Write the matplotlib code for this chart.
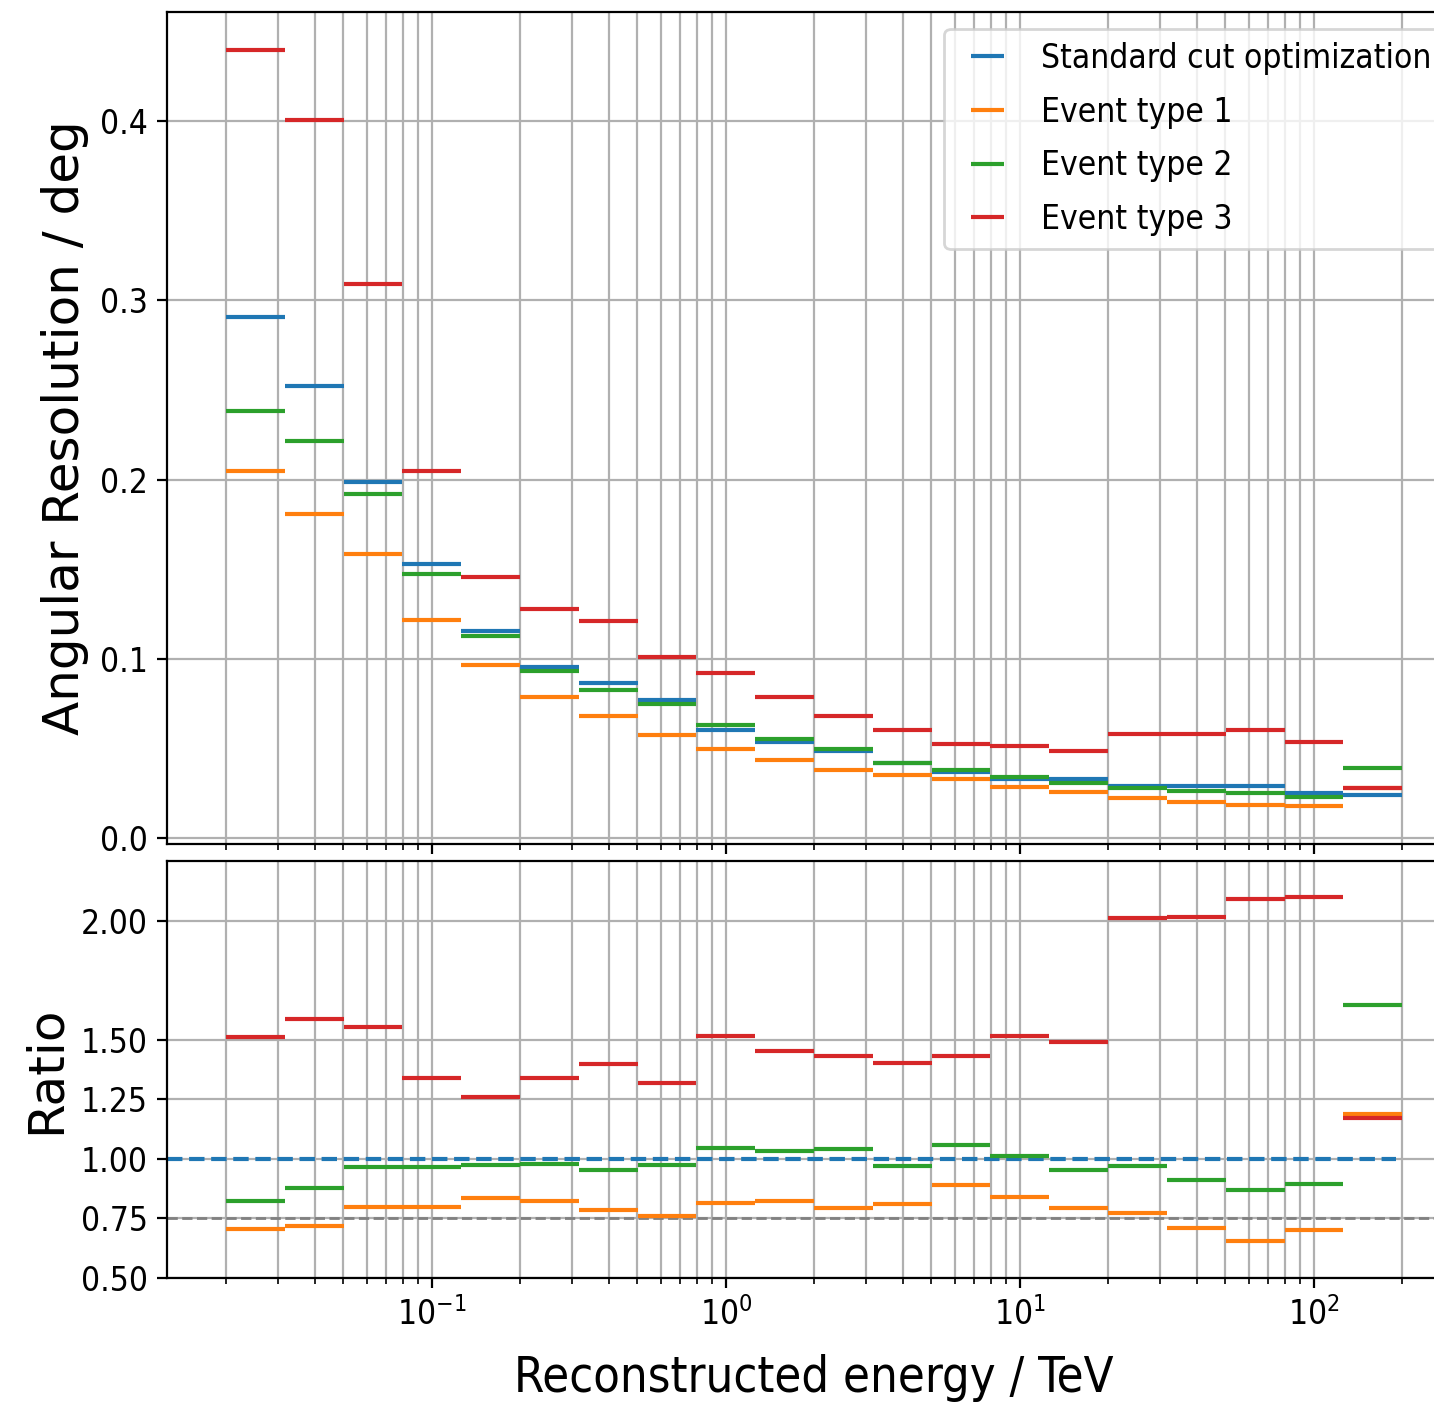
import matplotlib.pyplot as plt
import numpy as np

plt.rcParams.update({
    "font.size": 12,
    "font.stretch": "condensed",
    "axes.labelsize": 18,
    "legend.fontsize": 12,
})

# reconstructed energy bin edges / TeV (5 bins per decade)
bin_edges = np.array([0.01995, 0.03162, 0.05012, 0.07943, 0.1259, 0.1995, 0.3162,
                      0.5012, 0.7943, 1.259, 1.995, 3.162, 5.012, 7.943, 12.59,
                      19.95, 31.62, 50.12, 79.43, 125.9, 199.5])

labels = ["Standard cut optimization", "Event type 1", "Event type 2", "Event type 3"]

# angular resolution / deg
res_standard = [0.2906, 0.2524, 0.1989, 0.1532, 0.1159, 0.0958, 0.0864, 0.0769,
                0.0607, 0.0535, 0.0485, 0.0423, 0.0373, 0.0334, 0.0329, 0.0293,
                0.0290, 0.0290, 0.0256, 0.0240]
res_type1 = [0.2049, 0.1809, 0.1588, 0.1220, 0.0969, 0.0786, 0.0680, 0.0579,
             0.0496, 0.0440, 0.0379, 0.0351, 0.0334, 0.0285, 0.0258, 0.0225,
             0.0204, 0.0189, 0.0180, 0.0283]
res_type2 = [0.2383, 0.2216, 0.1922, 0.1476, 0.1131, 0.0936, 0.0830, 0.0752,
             0.0635, 0.0552, 0.0501, 0.0418, 0.0384, 0.0342, 0.0310, 0.0280,
             0.0264, 0.0252, 0.0230, 0.0394]
res_type3 = [0.4396, 0.4002, 0.3092, 0.2050, 0.1460, 0.1280, 0.1210, 0.1014,
             0.0925, 0.0786, 0.0685, 0.0602, 0.0529, 0.0514, 0.0486, 0.0585,
             0.0580, 0.0603, 0.0539, 0.0280]

# ratio to standard cut optimization
ratio_type1 = [0.705, 0.717, 0.797, 0.797, 0.836, 0.824, 0.786, 0.761, 0.815, 0.824,
               0.794, 0.811, 0.891, 0.839, 0.793, 0.773, 0.711, 0.657, 0.700, 1.188]
ratio_type2 = [0.821, 0.878, 0.966, 0.966, 0.976, 0.979, 0.954, 0.975, 1.046, 1.034,
               1.042, 0.970, 1.059, 1.011, 0.955, 0.968, 0.913, 0.870, 0.895, 1.644]
ratio_type3 = [1.513, 1.585, 1.555, 1.340, 1.258, 1.340, 1.399, 1.319, 1.517, 1.454,
               1.433, 1.403, 1.433, 1.515, 1.492, 2.010, 2.015, 2.091, 2.100, 1.170]

lo = bin_edges[:-1]
hi = bin_edges[1:]
centers = np.sqrt(lo * hi)
xerr = [centers - lo, hi - centers]

fig = plt.figure(figsize=(7.17, 7.025), dpi=200)
ax1 = fig.add_axes([0.1165, 0.3993, 0.9023, 0.5922])
ax2 = fig.add_axes([0.1165, 0.0904, 0.9023, 0.2968], sharex=ax1)

for i, res in enumerate([res_standard, res_type1, res_type2, res_type3]):
    ax1.errorbar(centers, res, xerr=xerr, fmt="none", color="C%d" % i, label=labels[i])

ax1.set_xscale("log")
ax1.set_ylabel("Angular Resolution / deg", fontstretch="normal")
ax1.grid(which="both")
ax1.legend(loc="upper right", handlelength=1.8, handletextpad=0.7,
           labelspacing=0.62, borderpad=0.4)
ax1.tick_params(labelbottom=False)

ax2.axhline(1.0, xmax=0.95, color="C0", linestyle="--", linewidth=1.5)
ax2.axhline(0.75, color="gray", linestyle="--", linewidth=1.0)
for i, ratio in enumerate([ratio_type1, ratio_type2, ratio_type3]):
    ax2.errorbar(centers, ratio, xerr=xerr, fmt="none", color="C%d" % (i + 1))

ax2.set_ylim(0.5, 2.25)
ax2.set_yticks([0.5, 0.75, 1.0, 1.25, 1.5, 2.0])
ax2.set_yticklabels(["0.50", "0.75", "1.00", "1.25", "1.50", "2.00"])
ax2.set_ylabel("Ratio", fontstretch="normal")
ax2.set_xlabel("Reconstructed energy / TeV", fontsize=17.5, labelpad=8)
ax2.grid(which="both")

fig.savefig("out.png", dpi=200)
